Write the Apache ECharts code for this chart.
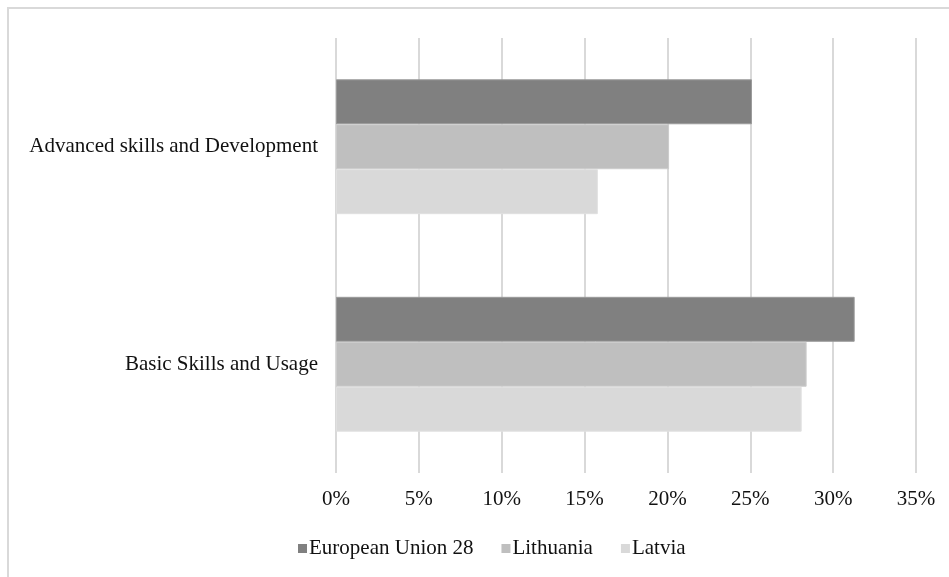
<!DOCTYPE html>
<html>
<head>
<meta charset="utf-8">
<script src="https://cdn.jsdelivr.net/npm/echarts@6/dist/echarts.min.js"></script>
<style>
  html, body { margin: 0; padding: 0; background: #fff; }
  #chart { width: 949px; height: 577px; }
</style>
</head>
<body>
<div id="chart"></div>
<script>
// Skill categories, listed top to bottom
const categories = ['Advanced skills and Development', 'Basic Skills and Usage'];

// Share of individuals (%) per category
const eu28 = [25.1, 31.3];
const lithuania = [20.1, 28.4];
const latvia = [15.8, 28.1];

const seriesNames = ['European Union 28', 'Lithuania', 'Latvia'];
const xTicks = { min: 0, max: 35, step: 5 };

const font = 'Liberation Serif, Times New Roman, serif';
const textColor = '#111111';

const chart = echarts.init(document.getElementById('chart'), null, { renderer: 'canvas' });

chart.setOption({
  backgroundColor: '#ffffff',
  animation: false,
  textStyle: { fontFamily: font, color: textColor },
  graphic: [{
    type: 'rect',
    shape: { x: 8, y: 8, width: 1000, height: 1000 },
    style: { fill: 'none', stroke: '#d9d9d9', lineWidth: 2 },
    silent: true,
    z: -1
  }],
  grid: { left: 336, right: 33, top: 38, bottom: 104, containLabel: false },
  legend: {
    data: seriesNames,
    bottom: 13,
    left: 293,
    itemWidth: 9,
    itemHeight: 9,
    itemGap: 28,
    icon: 'rect',
    itemStyle: { borderWidth: 0 },
    textStyle: { fontFamily: font, fontSize: 21, color: textColor, padding: [0, 0, 0, -3] }
  },
  xAxis: {
    type: 'value',
    min: xTicks.min,
    max: xTicks.max,
    interval: xTicks.step,
    axisLine: { show: false },
    axisTick: { show: false },
    axisLabel: {
      formatter: '{value}%',
      fontFamily: font,
      fontSize: 21,
      color: textColor,
      margin: 16
    },
    splitLine: { show: true, lineStyle: { color: '#d9d9d9', width: 2 } }
  },
  yAxis: {
    type: 'category',
    data: categories,
    inverse: true,
    axisLine: { show: false },
    axisTick: { show: false },
    axisLabel: {
      fontFamily: font,
      fontSize: 21,
      color: textColor,
      margin: 18
    }
  },
  series: [
    {
      name: seriesNames[0], type: 'bar', data: eu28,
      barGap: '0%', barCategoryGap: '38%',
      itemStyle: { color: '#808080', borderColor: '#9a9a9a', borderWidth: 1 }
    },
    {
      name: seriesNames[1], type: 'bar', data: lithuania,
      barGap: '0%', barCategoryGap: '38%',
      itemStyle: { color: '#bfbfbf', borderColor: '#cccccc', borderWidth: 1 }
    },
    {
      name: seriesNames[2], type: 'bar', data: latvia,
      barGap: '0%', barCategoryGap: '38%',
      itemStyle: { color: '#d9d9d9', borderColor: '#e0e0e0', borderWidth: 1 }
    }
  ]
});
</script>
</body>
</html>
